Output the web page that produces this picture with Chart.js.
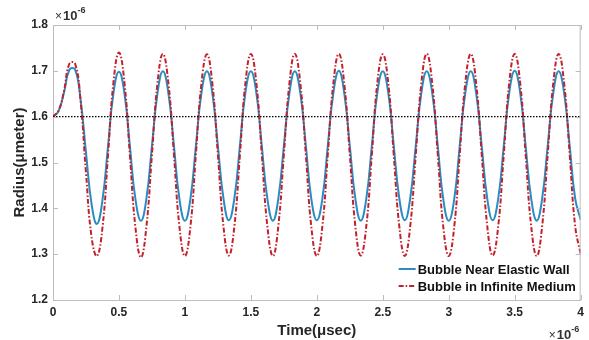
<!DOCTYPE html>
<html>
<head>
<meta charset="utf-8">
<script src="https://cdn.jsdelivr.net/npm/chart.js@4.4.1/dist/chart.umd.min.js"></script>
<style>
  html, body { margin: 0; padding: 0; background: #fff; }
</style>
</head>
<body>
<canvas id="grafica" width="589" height="340"></canvas>
<script>
// tiempo en microsegundos (x 10^-6 s)
const time = [
  0, 0.042, 0.083, 0.125, 0.167, 0.208, 0.25, 0.292, 0.333, 0.375, 0.417, 0.458,
  0.5, 0.542, 0.583, 0.625, 0.667, 0.708, 0.75, 0.792, 0.833, 0.875, 0.917, 0.958,
  1, 1.042, 1.083, 1.125, 1.167, 1.208, 1.25, 1.292, 1.333, 1.375, 1.417, 1.458,
  1.5, 1.542, 1.583, 1.625, 1.667, 1.708, 1.75, 1.792, 1.833, 1.875, 1.917, 1.958,
  2, 2.042, 2.083, 2.125, 2.167, 2.208, 2.25, 2.292, 2.333, 2.375, 2.417, 2.458,
  2.5, 2.542, 2.583, 2.625, 2.667, 2.708, 2.75, 2.792, 2.833, 2.875, 2.917, 2.958,
  3, 3.042, 3.083, 3.125, 3.167, 3.208, 3.25, 3.292, 3.333, 3.375, 3.417, 3.458,
  3.5, 3.542, 3.583, 3.625, 3.667, 3.708, 3.75, 3.792, 3.833, 3.875, 3.917, 3.958,
  4
];

// radio en micrometros (x 10^-6 m)
const wall = [
  1.600, 1.612, 1.652, 1.703, 1.703, 1.640, 1.522, 1.410, 1.366,
  1.418, 1.535, 1.651, 1.698, 1.650, 1.535, 1.420, 1.373,
  1.421, 1.536, 1.651, 1.699, 1.651, 1.536, 1.421, 1.373,
  1.421, 1.536, 1.651, 1.699, 1.651, 1.536, 1.422, 1.374,
  1.422, 1.537, 1.651, 1.699, 1.651, 1.536, 1.421, 1.373,
  1.421, 1.536, 1.651, 1.699, 1.651, 1.536, 1.421, 1.374,
  1.421, 1.536, 1.651, 1.700, 1.651, 1.536, 1.421, 1.373,
  1.421, 1.536, 1.651, 1.699, 1.651, 1.537, 1.422, 1.374,
  1.422, 1.537, 1.651, 1.699, 1.651, 1.536, 1.421, 1.373,
  1.421, 1.536, 1.651, 1.699, 1.651, 1.536, 1.421, 1.374,
  1.421, 1.536, 1.651, 1.700, 1.651, 1.536, 1.421, 1.373,
  1.421, 1.536, 1.651, 1.699, 1.651, 1.536, 1.422, 1.375
];

const infinite = [
  1.600, 1.613, 1.656, 1.716, 1.716, 1.638, 1.478, 1.338, 1.296,
  1.358, 1.516, 1.674, 1.740, 1.673, 1.515, 1.358, 1.293,
  1.360, 1.517, 1.673, 1.737, 1.672, 1.517, 1.361, 1.296,
  1.361, 1.517, 1.672, 1.736, 1.672, 1.517, 1.361, 1.297,
  1.361, 1.517, 1.672, 1.737, 1.672, 1.517, 1.361, 1.296,
  1.361, 1.517, 1.672, 1.737, 1.672, 1.516, 1.360, 1.296,
  1.361, 1.517, 1.672, 1.737, 1.672, 1.517, 1.361, 1.297,
  1.361, 1.517, 1.672, 1.736, 1.672, 1.517, 1.361, 1.296,
  1.361, 1.517, 1.672, 1.737, 1.672, 1.517, 1.361, 1.296,
  1.361, 1.517, 1.672, 1.737, 1.672, 1.517, 1.361, 1.297,
  1.361, 1.517, 1.672, 1.737, 1.672, 1.517, 1.361, 1.296,
  1.361, 1.517, 1.672, 1.737, 1.672, 1.517, 1.362, 1.300
];

// radio de equilibrio (linea punteada)
const refTime = [0, 4];
const refRadius = [1.6, 1.6];

const xTicks = [0, 0.5, 1, 1.5, 2, 2.5, 3, 3.5, 4];
const yTicks = [1.2, 1.3, 1.4, 1.5, 1.6, 1.7, 1.8];
const seriesNames = ['Bubble Near Elastic Wall', 'Bubble in Infinite Medium'];

const BLUE = '#2b8cc0';
const RED = '#c4202b';
const AXIS = '#bdbdbd';
const FONT = '"Liberation Sans", Arial, sans-serif';

function toPoints(xs, ys) {
  return xs.map((x, i) => ({ x: x, y: ys[i] }));
}

// marco, ticks hacia dentro, leyenda y exponentes estilo MATLAB
const marcoMatlab = {
  id: 'marcoMatlab',
  afterDraw(chart) {
    const ctx = chart.ctx;
    const a = chart.chartArea;
    const sx = chart.scales.x, sy = chart.scales.y;
    ctx.save();
    ctx.strokeStyle = AXIS;
    ctx.lineWidth = 1;
    ctx.beginPath();
    ctx.moveTo(a.left, a.top + 0.5); ctx.lineTo(a.right, a.top + 0.5);
    ctx.moveTo(a.right - 0.5, a.top); ctx.lineTo(a.right - 0.5, a.bottom);
    const tl = 5;
    xTicks.forEach(v => {
      const px = Math.round(sx.getPixelForValue(v)) + 0.5;
      ctx.moveTo(px, a.bottom); ctx.lineTo(px, a.bottom - tl);
      ctx.moveTo(px, a.top); ctx.lineTo(px, a.top + tl);
    });
    yTicks.forEach(v => {
      const py = Math.round(sy.getPixelForValue(v)) + 0.5;
      ctx.moveTo(a.left, py); ctx.lineTo(a.left + tl, py);
      ctx.moveTo(a.right, py); ctx.lineTo(a.right - tl, py);
    });
    ctx.stroke();

    // leyenda
    const lx = a.right - 182, ly = a.bottom - 31;
    const styles = [
      { color: BLUE, dash: [], width: 2 },
      { color: RED, dash: [5, 2, 1.5, 2], width: 2 }
    ];
    ctx.font = 'bold 13px ' + FONT;
    ctx.textBaseline = 'middle';
    ctx.textAlign = 'left';
    seriesNames.forEach((name, i) => {
      const y = ly + i * 17;
      ctx.strokeStyle = styles[i].color;
      ctx.lineWidth = styles[i].width;
      ctx.setLineDash(styles[i].dash);
      ctx.beginPath();
      ctx.moveTo(lx, y); ctx.lineTo(lx + 17, y);
      ctx.stroke();
      ctx.setLineDash([]);
      ctx.fillStyle = '#111';
      ctx.fillText(name, lx + 19, y + 1);
    });

    // exponentes x10^-6
    function expo(x, base) {
      ctx.fillStyle = '#333';
      ctx.textBaseline = 'alphabetic';
      ctx.font = '12px ' + FONT;
      ctx.fillText('\u00d7', x, base);
      const w1 = ctx.measureText('\u00d7').width;
      ctx.font = 'bold 13px ' + FONT;
      ctx.fillText('10', x + w1 + 1, base);
      const w2 = ctx.measureText('10').width;
      ctx.font = 'bold 9px ' + FONT;
      ctx.fillText('-6', x + w1 + 1 + w2, base - 7);
    }
    expo(a.left + 2, 20);
    expo(a.right - 32, 339);
    ctx.restore();
  }
};

const ctx = document.getElementById('grafica').getContext('2d');
const grafica = new Chart(ctx, {
  type: 'line',
  data: {
    datasets: [
      {
        label: 'equilibrio',
        data: toPoints(refTime, refRadius),
        borderColor: '#000',
        borderWidth: 1.3,
        borderDash: [1.5, 1.5],
        pointRadius: 0,
        tension: 0
      },
      {
        label: seriesNames[1],
        data: toPoints(time, infinite),
        borderColor: RED,
        borderWidth: 2,
        borderDash: [5, 2, 1.5, 2],
        pointRadius: 0,
        tension: 0.45
      },
      {
        label: seriesNames[0],
        data: toPoints(time, wall),
        borderColor: BLUE,
        borderWidth: 2,
        pointRadius: 0,
        tension: 0.45
      }
    ]
  },
  options: {
    responsive: false,
    animation: false,
    layout: { padding: { top: 25, right: 4, left: 0, bottom: 0 } },
    plugins: {
      legend: { display: false },
      tooltip: { enabled: false }
    },
    scales: {
      x: {
        type: 'linear',
        min: 0,
        max: 4,
        afterBuildTicks: s => { s.ticks = xTicks.map(v => ({ value: v })); },
        afterFit: s => { s.height = 40; },
        grid: { display: false, drawTicks: false },
        border: { display: true, color: AXIS, width: 1 },
        ticks: {
          padding: 5,
          color: '#262626',
          font: { family: FONT, size: 12, weight: 'bold' },
          callback: v => String(v)
        },
        title: {
          display: true,
          text: 'Time(\u03bcsec)',
          color: '#262626',
          font: { family: FONT, size: 15, weight: 'bold' },
          padding: { top: 0, bottom: 0 }
        }
      },
      y: {
        type: 'linear',
        min: 1.2,
        max: 1.8,
        afterBuildTicks: s => { s.ticks = yTicks.map(v => ({ value: v })); },
        afterFit: s => { s.width = 53; },
        grid: { display: false, drawTicks: false },
        border: { display: true, color: AXIS, width: 1 },
        ticks: {
          padding: 5,
          color: '#262626',
          font: { family: FONT, size: 12, weight: 'bold' },
          callback: v => v.toFixed(1)
        },
        title: {
          display: true,
          text: 'Radius(\u03bcmeter)',
          color: '#262626',
          font: { family: FONT, size: 15, weight: 'bold' },
          padding: { top: 11, bottom: 0 }
        }
      }
    }
  },
  plugins: [marcoMatlab]
});
</script>
</body>
</html>
